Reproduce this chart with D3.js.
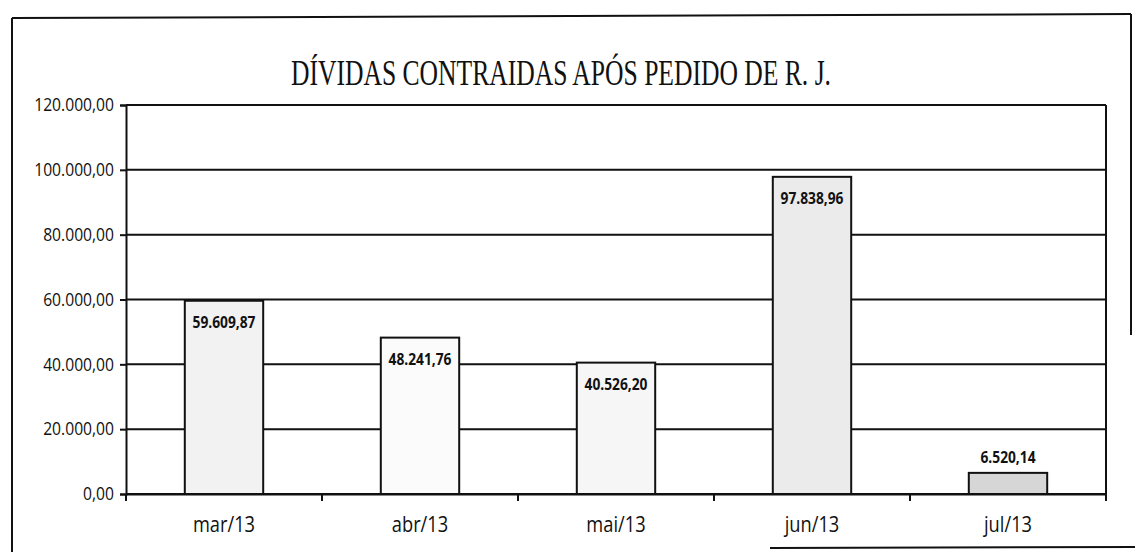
<!DOCTYPE html>
<html>
<head>
<meta charset="utf-8">
<script src="https://cdn.jsdelivr.net/npm/d3@7"></script>
<style>
  body { margin: 0; background: #fff; }
  svg { display: block; }
</style>
</head>
<body>
<div id="chart"></div>
<script>
const months = ["mar/13", "abr/13", "mai/13", "jun/13", "jul/13"];
const values = [59609.87, 48241.76, 40526.20, 97838.96, 6520.14];
const yTicks = [0, 20000, 40000, 60000, 80000, 100000, 120000];
const title = "DÍVIDAS CONTRAIDAS APÓS PEDIDO DE R. J.";

const width = 1135;
const height = 552;
const plotLeft = 126, plotRight = 1106, plotTop = 105, plotBottom = 494;

const br = d3.formatLocale({ decimal: ",", thousands: ".", grouping: [3], currency: ["R$", ""] });
const fmt = br.format(",.2f");

// squeeze text horizontally to mimic a condensed face
function condense(sel, factor) {
    sel.each(function () {
        const w = this.getComputedTextLength();
        d3.select(this)
            .attr("textLength", w * factor)
            .attr("lengthAdjust", "spacingAndGlyphs");
    });
}

const svg = d3.select("#chart")
    .append("svg")
    .attr("width", width)
    .attr("height", height);

svg.append("rect").attr("width", width).attr("height", height).attr("fill", "#fff");

// outer frame (scanned, partly cut)
const frame = svg.append("g").attr("stroke", "#111").attr("fill", "none").attr("stroke-width", 2);
frame.append("line").attr("x1", 12).attr("y1", 18).attr("x2", 1131).attr("y2", 14);
frame.append("line").attr("x1", 12).attr("y1", 18).attr("x2", 12).attr("y2", 552);
frame.append("line").attr("x1", 1131).attr("y1", 14).attr("x2", 1131).attr("y2", 335);
frame.append("line").attr("x1", 770).attr("y1", 548).attr("x2", 1135).attr("y2", 547);

svg.append("text")
    .attr("x", 561)
    .attr("y", 85)
    .attr("text-anchor", "middle")
    .attr("font-family", "Liberation Serif, DejaVu Serif, serif")
    .attr("font-size", 36)
    .attr("textLength", 540)
    .attr("lengthAdjust", "spacingAndGlyphs")
    .attr("fill", "#111")
    .text(title);

const xScale = d3.scaleBand()
    .domain(months)
    .range([plotLeft, plotRight])
    .paddingInner(0.6)
    .paddingOuter(0.3);

const yScale = d3.scaleLinear()
    .domain([0, 120000])
    .range([plotBottom, plotTop]);

// gridlines
svg.append("g")
    .selectAll("line")
    .data(yTicks)
    .enter()
    .append("line")
    .attr("x1", plotLeft)
    .attr("x2", plotRight)
    .attr("y1", d => yScale(d))
    .attr("y2", d => yScale(d))
    .attr("stroke", "#111")
    .attr("stroke-width", 2);

svg.append("line")
    .attr("x1", plotRight).attr("x2", plotRight)
    .attr("y1", plotTop).attr("y2", plotBottom)
    .attr("stroke", "#111")
    .attr("stroke-width", 2);

const fills = ["#f2f2f2", "#fbfbfb", "#f6f6f6", "#ebebeb", "#d6d6d6"];

svg.selectAll("rect.bar")
    .data(values)
    .enter()
    .append("rect")
    .attr("class", "bar")
    .attr("x", (d, i) => xScale(months[i]))
    .attr("y", d => yScale(d))
    .attr("width", xScale.bandwidth())
    .attr("height", d => plotBottom - yScale(d))
    .attr("fill", (d, i) => fills[i])
    .attr("stroke", "#111")
    .attr("stroke-width", 2);

svg.selectAll("text.val")
    .data(values)
    .enter()
    .append("text")
    .attr("class", "val")
    .attr("x", (d, i) => xScale(months[i]) + xScale.bandwidth() / 2)
    .attr("y", d => plotBottom - yScale(d) > 40 ? yScale(d) + 27 : yScale(d) - 10)
    .attr("text-anchor", "middle")
    .attr("font-family", "Open Sans, sans-serif")
    .attr("font-size", 16)
    .attr("font-weight", 700)
    .attr("fill", "#111")
    .text(d => fmt(d))
    .call(condense, 0.86);

const yAxis = d3.axisLeft(yScale)
    .tickValues(yTicks)
    .tickSize(6)
    .tickPadding(6)
    .tickFormat(d => fmt(d));

const gy = svg.append("g")
    .attr("transform", "translate(" + plotLeft + ",0)")
    .call(yAxis);
gy.select(".domain").attr("stroke", "#111").attr("stroke-width", 2);
gy.selectAll(".tick line").attr("stroke", "#111").attr("stroke-width", 2);
gy.selectAll(".tick text")
    .attr("font-family", "Open Sans, sans-serif")
    .attr("font-size", 18)
    .attr("font-weight", 500)
    .attr("fill", "#111")
    .call(condense, 0.87);

const xAxis = d3.axisBottom(xScale).tickSize(0).tickPadding(23);
const gx = svg.append("g")
    .attr("transform", "translate(0," + plotBottom + ")")
    .call(xAxis);
gx.select(".domain").attr("stroke", "#111").attr("stroke-width", 2);
gx.selectAll(".tick text")
    .attr("font-family", "Open Sans, sans-serif")
    .attr("font-size", 21)
    .attr("fill", "#111")
    .call(condense, 0.87);

// category boundary ticks
const bounds = d3.range(months.length + 1).map(i => plotLeft + i * (plotRight - plotLeft) / months.length);
gx.selectAll("line.sep")
    .data(bounds)
    .enter()
    .append("line")
    .attr("class", "sep")
    .attr("x1", d => d).attr("x2", d => d)
    .attr("y1", 0).attr("y2", 7)
    .attr("stroke", "#111")
    .attr("stroke-width", 2);
</script>
</body>
</html>
